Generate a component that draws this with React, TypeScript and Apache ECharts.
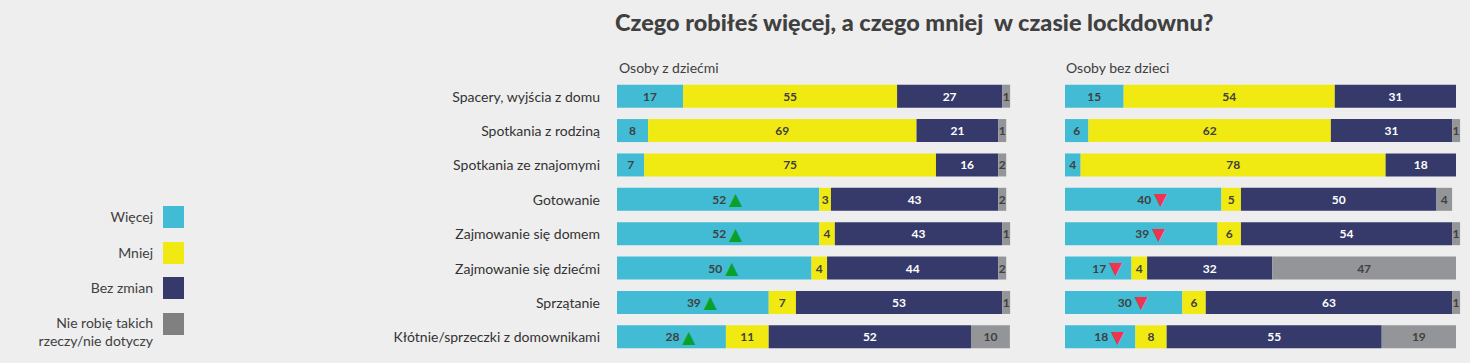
import React, { useEffect, useRef } from 'react';
import * as echarts from 'echarts';

const chartTitle = 'Czego robiłeś więcej, a czego mniej  w czasie lockdownu?';
const groupTitles = ['Osoby z dziećmi', 'Osoby bez dzieci'];

const categories = [
  'Spacery, wyjścia z domu',
  'Spotkania z rodziną',
  'Spotkania ze znajomymi',
  'Gotowanie',
  'Zajmowanie się domem',
  'Zajmowanie się dziećmi',
  'Sprzątanie',
  'Kłótnie/sprzeczki z domownikami',
];

const seriesNames = ['Więcej', 'Mniej', 'Bez zmian', 'Nie robię takich\nrzeczy/nie dotyczy'];
const colors = ['#42bcd4', '#f0ea12', '#353a6b', '#939598'];
const legendColors = ['#42bcd4', '#f0ea12', '#353a6b', '#808080'];
const labelColors = ['#404040', '#404040', '#ffffff', '#404040'];

// Osoby z dziećmi
const kidsMore = [17, 8, 7, 52, 52, 50, 39, 28];
const kidsLess = [55, 69, 75, 3, 4, 4, 7, 11];
const kidsSame = [27, 21, 16, 43, 43, 44, 53, 52];
const kidsNa = [1, 1, 2, 2, 1, 2, 1, 10];
const kidsTrend = ['', '', '', 'up', 'up', 'up', 'up', 'up'];

// Osoby bez dzieci
const noKidsMore = [15, 6, 4, 40, 39, 17, 30, 18];
const noKidsLess = [54, 62, 78, 5, 6, 4, 6, 8];
const noKidsSame = [31, 31, 18, 50, 54, 32, 63, 55];
const noKidsNa = [0, 1, 0, 4, 1, 47, 1, 19];
const noKidsTrend = ['', '', '', 'down', 'down', 'down', 'down', 'down'];

const FONT = 'Lato';

export default function App() {
  const ref = useRef<HTMLDivElement>(null);

  useEffect(() => {
    document.body.style.margin = '0';
    document.body.style.background = '#eeeeee';
    const chart = echarts.init(ref.current!, null, { renderer: 'svg' });

    const groups = [
      { values: [kidsMore, kidsLess, kidsSame, kidsNa], trend: kidsTrend },
      { values: [noKidsMore, noKidsLess, noKidsSame, noKidsNa], trend: noKidsTrend },
    ];

    const series: any[] = [];
    groups.forEach((g, gi) => {
      g.values.forEach((vals, si) => {
        series.push({
          type: 'bar',
          name: seriesNames[si],
          stack: 'g' + gi,
          xAxisIndex: gi,
          yAxisIndex: gi,
          barWidth: 23,
          barMinHeight: si === 3 ? 8 : 0,
          clip: false,
          itemStyle: { color: colors[si] },
          data: vals.map((v, i) => {
            if (v === 0) return '-';
            const t = si === 0 ? g.trend[i] : '';
            return t ? { value: v, label: { offset: [9, 0] } } : v;
          }),
          label: {
            show: true,
            position: 'inside',
            color: labelColors[si],
            fontFamily: FONT,
            fontWeight: 'bold',
            fontSize: 12,
            formatter: (p: any) => {
              if (!p.value) return '';
              const t = si === 0 ? g.trend[p.dataIndex] : '';
              if (t === 'up') return `${p.value} {up|▲}`;
              if (t === 'down') return `${p.value} {down|▼}`;
              return String(p.value);
            },
            rich: {
              up: { color: '#0aa12a', fontFamily: 'DejaVu Sans', fontSize: 17 },
              down: { color: '#f0344f', fontFamily: 'DejaVu Sans', fontSize: 17 },
            },
          },
        });
      });
    });

    const legendTop = [206, 242, 277, 313];
    const legendGraphics: any[] = [];
    seriesNames.forEach((n, i) => {
      legendGraphics.push({
        type: 'rect',
        shape: { x: 163, y: legendTop[i], width: 21, height: 22 },
        style: { fill: legendColors[i] },
      });
      const twoLine = n.includes('\n');
      legendGraphics.push({
        type: 'text',
        x: 153,
        y: twoLine ? legendTop[i] + 18 : legendTop[i] + 10,
        style: {
          text: n,
          align: 'right',
          verticalAlign: 'middle',
          fill: '#404040',
          font: `14px ${FONT}`,
          lineHeight: 18,
        },
      });
    });

    chart.setOption({
      animation: false,
      backgroundColor: '#eeeeee',
      title: [
        {
          text: chartTitle,
          left: 610,
          top: 5,
          textStyle: { fontFamily: FONT, fontWeight: 900, fontSize: 23.5, color: '#404040' },
        },
        {
          text: groupTitles[0],
          left: 614,
          top: 55,
          textStyle: { fontFamily: FONT, fontWeight: 'normal', fontSize: 14, color: '#404040' },
        },
        {
          text: groupTitles[1],
          left: 1061,
          top: 55,
          textStyle: { fontFamily: FONT, fontWeight: 'normal', fontSize: 14, color: '#404040' },
        },
      ],
      grid: [
        { left: 617, width: 389, top: 79, height: 275 },
        { left: 1065, width: 391, top: 79, height: 275 },
      ],
      xAxis: [0, 1].map((i) => ({
        type: 'value',
        gridIndex: i,
        min: 0,
        max: 100,
        show: false,
      })),
      yAxis: [0, 1].map((i) => ({
        type: 'category',
        gridIndex: i,
        data: categories,
        inverse: true,
        axisLine: { show: false },
        axisTick: { show: false },
        splitLine: { show: false },
        axisLabel: {
          show: i === 0,
          margin: 17,
          fontFamily: FONT,
          fontSize: 14,
          color: '#333333',
        },
      })),
      graphic: legendGraphics,
      series,
    });

    return () => chart.dispose();
  }, []);

  return <div ref={ref} style={{ width: 1470, height: 363 }} />;
}
